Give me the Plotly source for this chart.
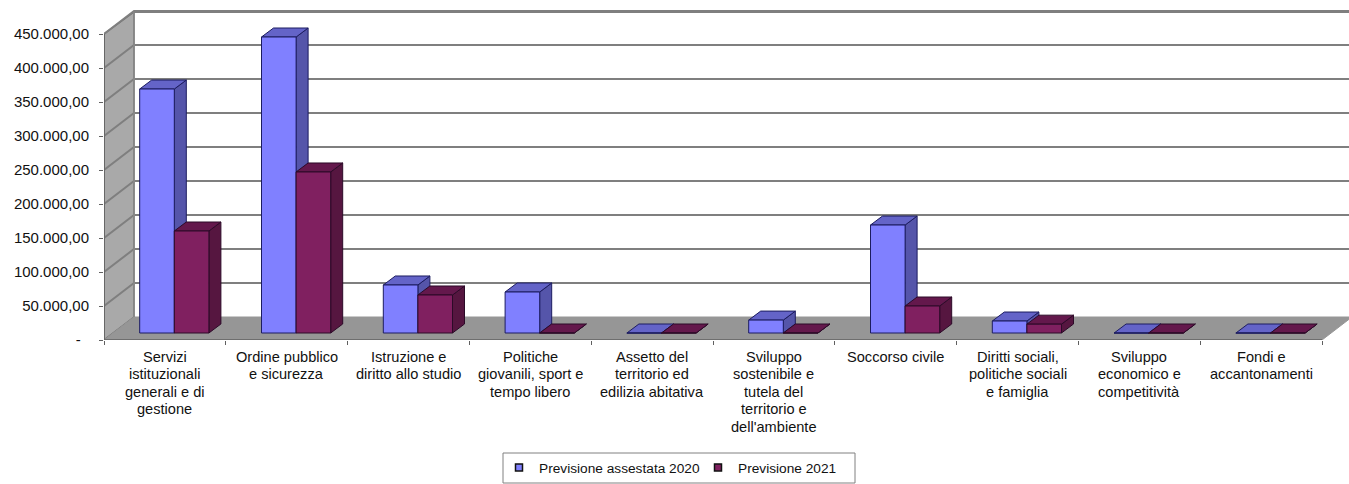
import plotly.graph_objects as go

categories = [
    "Servizi\nistituzionali\ngenerali e di\ngestione",
    "Ordine pubblico\ne sicurezza",
    "Istruzione e\ndiritto allo studio",
    "Politiche\ngiovanili, sport e\ntempo libero",
    "Assetto del\nterritorio ed\nedilizia abitativa",
    "Sviluppo\nsostenibile e\ntutela del\nterritorio e\ndell'ambiente",
    "Soccorso civile",
    "Diritti sociali,\npolitiche sociali\ne famiglia",
    "Sviluppo\neconomico e\ncompetitività",
    "Fondi e\naccantonamenti",
]
previsione_2020 = [358800, 435300, 70600, 60300, 0, 19000, 158800, 17600, 0, 0]
previsione_2021 = [150000, 236800, 55900, 0, 0, 0, 39700, 13000, 0, 0]
tick_values = [0, 50000, 100000, 150000, 200000, 250000, 300000, 350000, 400000, 450000]
tick_labels = ["-\u00a0\u00a0", "50.000,00", "100.000,00", "150.000,00", "200.000,00",
               "250.000,00", "300.000,00", "350.000,00", "400.000,00", "450.000,00"]

# pixel scale of the plot area
L, T, R, B = 104, 8, 1349, 340
W, H = 1349, 484
CAT_PX = 121.8
VAL_PX = 306 / 450000
px = lambda n: n / CAT_PX      # horizontal pixels to category units
py = lambda n: n / VAL_PX      # vertical pixels to value units

x_max = (R - L) / CAT_PX
y_max = (B - T) / VAL_PX
wall_top = py(B - 12)
WALL_X, WALL_Y = px(30), py(23)
BAR_X, BAR_Y = px(12), py(9)
BASE = py(7)
BAR_START, BAR_W = px(35.7), px(34.6)

GRID = "#7f7f7f"
fig = go.Figure()


def poly(xs, ys, fill, line=None, width=1):
    fig.add_trace(go.Scatter(
        x=xs + xs[:1], y=ys + ys[:1], mode="lines", fill="toself", fillcolor=fill,
        line=dict(color=line or fill, width=width), hoverinfo="skip", showlegend=False))


def seg(xs, ys, color=GRID, width=2):
    fig.add_trace(go.Scatter(x=xs, y=ys, mode="lines", line=dict(color=color, width=width),
                             hoverinfo="skip", showlegend=False))


# walls and floor
poly([0, WALL_X, WALL_X, 0], [0, WALL_Y, wall_top, tick_values[-1]], "#a9a9a9", "#707070", 1.5)
poly([0, WALL_X, 10 + WALL_X, 10], [0, WALL_Y, WALL_Y, 0], "#969696", "#969696", 1)
for v in tick_values[1:]:
    seg([0, WALL_X, x_max], [v, v + WALL_Y, v + WALL_Y])
seg([WALL_X, WALL_X], [WALL_Y, wall_top], "#8a8a8a", 1.5)
seg([WALL_X, x_max], [wall_top, wall_top])
seg([0, 10], [0, 0], "#606060", 1.5)
seg([0, 0], [0, tick_values[-1]], "#606060", 1.5)

# bars, painted back to front
series = [
    (previsione_2020, 0, "#8080ff", "#5555aa", "#6464c8", "#1c1c60"),
    (previsione_2021, 1, "#802060", "#561640", "#64184c", "#2c0a28"),
]
for i in range(len(categories)):
    for values, k, front, side, top, edge in series:
        x0 = i + BAR_START + k * BAR_W
        x1 = x0 + BAR_W
        y0, y1 = BASE, BASE + values[i]
        poly([x1, x1 + BAR_X, x1 + BAR_X, x1], [y0, y0 + BAR_Y, y1 + BAR_Y, y1], side, edge, 1)
        poly([x0, x1, x1 + BAR_X, x0 + BAR_X], [y1, y1, y1 + BAR_Y, y1 + BAR_Y], top, edge, 1)
        poly([x0, x1, x1, x0], [y0, y0, y1, y1], front, edge, 1)

# legend entries
for name, color, edge in [("Previsione assestata 2020", "#8080ff", "#1c1c60"),
                          ("Previsione 2021", "#802060", "#1c0a20")]:
    fig.add_trace(go.Scatter(x=[None], y=[None], mode="markers", name=name,
                             marker=dict(symbol="square", size=7, color=color,
                                         line=dict(color="#111111", width=1.5))))

# category labels, one annotation per line for the tight line spacing
annotations = []
for i, cat in enumerate(categories):
    for n, line in enumerate(cat.split("\n")):
        annotations.append(dict(
            x=i + 0.5, y=0, xref="x", yref="y", text=line, showarrow=False,
            xanchor="center", yanchor="middle", yshift=-(17 + 17.4 * n),
            font=dict(family="Liberation Sans, Arial, sans-serif", size=14.6, color="#111111")))

pw, ph = R - L, B - T
fig.update_layout(
    width=W, height=H, autosize=False,
    margin=dict(l=L, r=W - R, t=T, b=H - B, pad=0),
    paper_bgcolor="white", plot_bgcolor="white",
    font=dict(family="Liberation Sans, Arial, sans-serif", color="#111111"),
    xaxis=dict(range=[0, x_max], showgrid=False, zeroline=False, showline=False,
               tickmode="array", tickvals=list(range(len(categories) + 1)),
               showticklabels=False, ticks="outside", ticklen=4, tickwidth=1, tickcolor="#606060"),
    yaxis=dict(range=[0, y_max], showgrid=False, zeroline=False, showline=False,
               tickmode="array", tickvals=tick_values, ticktext=tick_labels,
               ticks="outside", ticklen=4, tickwidth=1, tickcolor="#606060",
               ticklabelstandoff=7, tickfont=dict(size=15, color="#111111")),
    showlegend=True,
    legend=dict(orientation="h", xref="container", yref="container",
                x=499 / W, y=1 - 452 / H, xanchor="left", yanchor="top",
                font=dict(size=13.7, color="#111111"), bgcolor="rgba(0,0,0,0)",
                itemsizing="trace", itemclick=False, itemdoubleclick=False,
                entrywidth=154, entrywidthmode="pixels"),
    annotations=annotations,
    shapes=[dict(type="rect", xref="paper", yref="paper",
                 x0=(503 - L) / pw, x1=(855 - L) / pw,
                 y0=(B - 483) / ph, y1=(B - 453) / ph,
                 line=dict(color="#808080", width=1), fillcolor="rgba(0,0,0,0)")],
)

fig.write_html("out.html", config={"displayModeBar": False},
               post_script="document.body.style.margin='0';document.body.style.overflow='hidden';")
